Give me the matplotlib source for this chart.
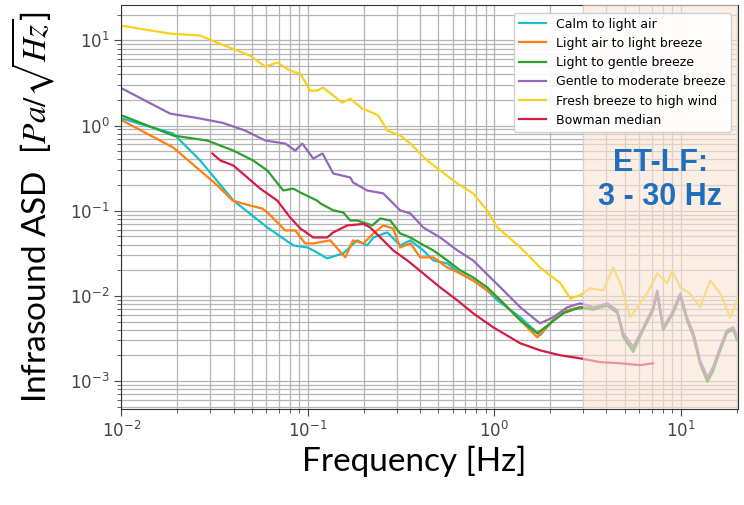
import matplotlib
matplotlib.use('Agg')
import matplotlib.pyplot as plt

# --- Data (frequency in Hz, ASD in Pa/sqrt(Hz)) ---
calm_f = [0.0101, 0.019, 0.0265, 0.0399, 0.0607, 0.0836, 0.0994, 0.107, 0.127, 0.155,
          0.184, 0.208, 0.225, 0.267, 0.313, 0.355, 0.416, 0.471, 0.560, 0.657,
          0.771, 0.917, 1.04, 1.38, 1.76, 2.07, 2.46, 2.89, 3.40, 4.04,
          4.57, 4.92, 5.56, 6.30, 7.12, 7.48, 8.06, 9.12, 9.94, 10.8,
          11.7, 12.7, 13.9, 14.9, 16.3, 17.7, 19.1, 20.1]
calm_a = [1.21, 0.805, 0.389, 0.132, 0.0637, 0.0392, 0.0371, 0.0343, 0.0276, 0.0316,
          0.0449, 0.0392, 0.0486, 0.0557, 0.0392, 0.0449, 0.0343, 0.0261, 0.0241, 0.0184,
          0.0152, 0.0116, 0.00888, 0.00561, 0.00345, 0.00518, 0.00678, 0.00735, 0.0070, 0.0078,
          0.0065, 0.0035, 0.0024, 0.0041, 0.0070, 0.0110, 0.0041, 0.0065, 0.0102, 0.0054,
          0.0035, 0.0017, 0.00108, 0.0014, 0.0024, 0.0038, 0.0041, 0.0031]

light_air_f = [0.0101, 0.019, 0.0319, 0.0395, 0.0445, 0.0571, 0.0616, 0.0757, 0.0857, 0.0967,
               0.107, 0.132, 0.159, 0.175, 0.199, 0.225, 0.254, 0.287, 0.313, 0.355,
               0.401, 0.471, 0.560, 0.657, 0.771, 0.917, 1.04, 1.38, 1.70, 2.07,
               2.46, 2.89, 3.40, 4.04, 4.57, 4.92, 5.56, 6.30, 7.12, 7.48,
               8.06, 9.12, 9.94, 10.8, 11.7, 12.7, 13.9, 14.9, 16.3, 17.7, 19.1, 20.1]
light_air_a = [1.15, 0.552, 0.209, 0.132, 0.122, 0.106, 0.0930, 0.0588, 0.0588, 0.0414,
               0.0414, 0.0449, 0.0284, 0.0449, 0.0414, 0.0542, 0.0673, 0.0620, 0.0371, 0.0414,
               0.0284, 0.0284, 0.0216, 0.0184, 0.0152, 0.0116, 0.00964, 0.00518, 0.00327, 0.00518,
               0.00678, 0.00735, 0.0071, 0.0080, 0.0066, 0.0036, 0.0025, 0.0042, 0.0072, 0.0113,
               0.0042, 0.0066, 0.0104, 0.0055, 0.0036, 0.0017, 0.00110, 0.0014, 0.0025, 0.0039, 0.0042, 0.0032]

light_gentle_f = [0.0101, 0.019, 0.0289, 0.0399, 0.051, 0.0607, 0.0739, 0.0836, 0.0912, 0.112,
                  0.117, 0.137, 0.155, 0.169, 0.184, 0.222, 0.245, 0.277, 0.313, 0.355,
                  0.401, 0.471, 0.560, 0.657, 0.771, 0.917, 1.08, 1.38, 1.70, 2.00,
                  2.34, 2.89, 3.40, 4.04, 4.57, 4.92, 5.56, 6.30, 7.12, 7.48,
                  8.06, 9.12, 9.94, 10.8, 11.7, 12.7, 13.9, 14.9, 16.3, 17.7, 19.1, 20.1]
light_gentle_a = [1.31, 0.763, 0.667, 0.509, 0.389, 0.297, 0.173, 0.182, 0.164, 0.132,
                  0.122, 0.101, 0.0955, 0.0769, 0.0769, 0.0673, 0.0812, 0.0769, 0.0542, 0.0486,
                  0.0414, 0.0343, 0.0261, 0.0200, 0.0165, 0.0126, 0.00888, 0.00518, 0.00364, 0.00477,
                  0.00625, 0.00735, 0.0069, 0.0077, 0.0063, 0.0033, 0.0022, 0.0040, 0.0069, 0.0108,
                  0.0040, 0.0063, 0.0100, 0.0052, 0.0033, 0.0016, 0.00098, 0.0013, 0.0023, 0.0037, 0.0040, 0.0030]

gentle_mod_f = [0.0101, 0.0183, 0.0249, 0.0348, 0.0462, 0.0592, 0.0757, 0.0857, 0.0935, 0.107,
                0.120, 0.137, 0.169, 0.175, 0.208, 0.254, 0.313, 0.355, 0.416, 0.513,
                0.634, 0.771, 0.952, 1.08, 1.38, 1.76, 2.07, 2.46, 2.89, 3.40,
                4.04, 4.57, 4.92, 5.56, 6.30, 7.12, 7.48, 8.06, 9.12, 9.94,
                10.8, 11.7, 12.7, 13.9, 14.9, 16.3, 17.7, 19.1, 20.1]
gentle_mod_a = [2.72, 1.38, 1.24, 1.08, 0.874, 0.667, 0.615, 0.509, 0.615, 0.410,
                0.470, 0.274, 0.246, 0.215, 0.173, 0.160, 0.101, 0.0930, 0.0637, 0.0486,
                0.0343, 0.0261, 0.0165, 0.0126, 0.00735, 0.00477, 0.00561, 0.00735, 0.00819, 0.00735,
                0.00819, 0.00678, 0.00364, 0.00250, 0.00428, 0.00735, 0.0116, 0.00428, 0.00678, 0.0107,
                0.00561, 0.00364, 0.00176, 0.00111, 0.00146, 0.00250, 0.00395, 0.00428, 0.00327]

fresh_f = [0.0100, 0.0183, 0.0265, 0.0308, 0.0384, 0.0492, 0.0592, 0.0686, 0.0805, 0.0912,
           0.103, 0.112, 0.121, 0.153, 0.169, 0.196, 0.222, 0.239, 0.267, 0.313,
           0.355, 0.437, 0.513, 0.634, 0.771, 0.917, 1.04, 1.38, 1.76, 2.26,
           2.56, 2.89, 3.27, 3.84, 4.35, 4.74, 5.36, 5.84, 6.61, 7.48,
           8.47, 9.00, 9.94, 11.2, 12.7, 14.4, 16.3, 18.4, 20.1]
fresh_a = [14.9, 12.0, 11.4, 9.9, 8.2, 6.6, 4.9, 5.5, 4.4, 4.07,
           2.57, 2.57, 2.79, 1.86, 2.07, 1.58, 1.42, 1.31, 0.874, 0.763,
           0.615, 0.389, 0.297, 0.209, 0.160, 0.101, 0.0637, 0.0371, 0.0216, 0.0141,
           0.00937, 0.0102, 0.0123, 0.0116, 0.0216, 0.0141, 0.00561, 0.00735, 0.0107, 0.0184,
           0.0141, 0.0200, 0.0126, 0.0107, 0.00735, 0.0152, 0.0107, 0.00561, 0.00888]

bowman_f = [0.0308, 0.034, 0.0399, 0.0474, 0.0556, 0.0686, 0.0805, 0.0912, 0.107, 0.127,
            0.137, 0.163, 0.199, 0.216, 0.245, 0.287, 0.342, 0.416, 0.513, 0.634,
            0.771, 0.988, 1.38, 1.76, 2.26, 2.89, 3.70, 4.74, 6.07, 7.12]
bowman_a = [0.470, 0.389, 0.340, 0.246, 0.182, 0.132, 0.0834, 0.0620, 0.0486, 0.0486,
            0.0557, 0.0673, 0.0700, 0.0637, 0.0486, 0.0343, 0.0261, 0.0184, 0.0126, 0.00888,
            0.00625, 0.00428, 0.00278, 0.00230, 0.00201, 0.00185, 0.00167, 0.00162, 0.00154, 0.00162]

series = [
    ('Calm to light air', calm_f, calm_a, '#17becf'),
    ('Light air to light breeze', light_air_f, light_air_a, '#ff7f0e'),
    ('Light to gentle breeze', light_gentle_f, light_gentle_a, '#2ca02c'),
    ('Gentle to moderate breeze', gentle_mod_f, gentle_mod_a, '#9467bd'),
    ('Fresh breeze to high wind', fresh_f, fresh_a, '#f7d11e'),
    ('Bowman median', bowman_f, bowman_a, '#d81b45'),
]

band = (3, 30)  # ET-LF band

plt.rcParams['mathtext.fontset'] = 'stix'

fig = plt.figure(figsize=(7.44, 5.05), dpi=100)
ax = fig.add_axes([0.163, 0.190, 0.829, 0.800])

for label, f, a, color in series:
    ax.plot(f, a, color=color, linewidth=1.6, label=label, zorder=2)

ax.set_xscale('log')
ax.set_yscale('log')
ax.set_xlim(0.01, 20.3)
ax.set_ylim(4.7e-4, 26)

# shaded ET-LF band drawn over the curves (fades them)
ax.axvspan(band[0], band[1], color='#f9e3d3', alpha=0.6, lw=0, zorder=3)

ax.grid(True, which='both', color='#b4b4b4', linewidth=0.9)
ax.set_axisbelow(True)
ax.tick_params(which='both', labelsize=12, labelcolor='#444444', color='#444444')
ax.tick_params(which='major', length=5)
ax.tick_params(which='minor', length=3)
for s in ax.spines.values():
    s.set_color('#333333')

ax.set_xlabel('Frequency [Hz]', fontsize=24, family='Lato')
ax.set_ylabel('Infrasound ASD  [$Pa/\\sqrt{Hz}$]', fontsize=24, family='Lato')
ax.xaxis.set_label_coords(0.475, -0.09)
ax.xaxis.label.set_va('top')
ax.yaxis.set_label_coords(-0.105, 0.5)

ax.text(0.874, 0.567, 'ET-LF:\n3 - 30 Hz', transform=ax.transAxes,
        ha='center', va='center', fontsize=22, fontweight='bold',
        family='Liberation Sans', color='#1f6fbf', linespacing=1.15, zorder=6)

leg = ax.legend(loc='upper right', fontsize=9, framealpha=0.92,
                borderaxespad=0.6, handlelength=2.2)
leg.set_zorder(7)

fig.savefig('out.png', dpi=100)
